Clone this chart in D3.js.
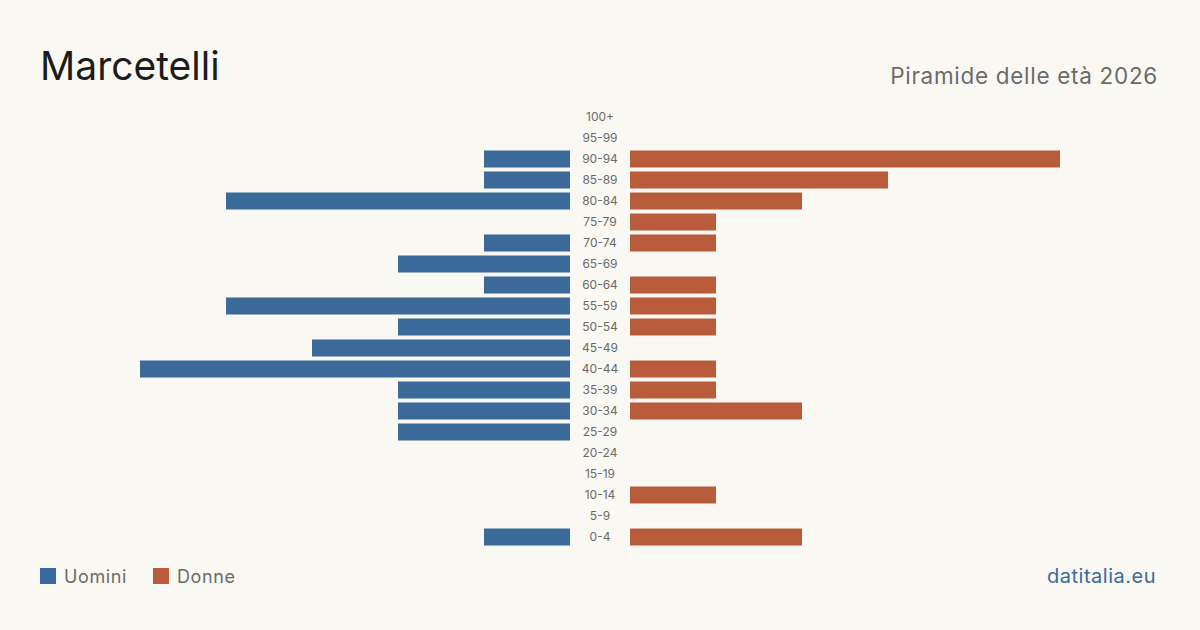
<!DOCTYPE html>
<html>
<head>
<meta charset="utf-8">
<script src="https://cdn.jsdelivr.net/npm/d3@7"></script>
<style>
  html, body { margin: 0; padding: 0; background: #f9f8f3; }
  svg { display: block; font-family: Inter, "Noto Sans", sans-serif; }
</style>
</head>
<body>
<script>
const ageGroups = ["100+", "95-99", "90-94", "85-89", "80-84", "75-79", "70-74", "65-69",
  "60-64", "55-59", "50-54", "45-49", "40-44", "35-39", "30-34", "25-29",
  "20-24", "15-19", "10-14", "5-9", "0-4"];
const men =   [0, 0, 1, 1, 4, 0, 1, 2, 1, 4, 2, 3, 5, 2, 2, 2, 0, 0, 0, 0, 1];
const women = [0, 0, 5, 3, 2, 1, 1, 0, 1, 1, 1, 0, 1, 1, 2, 0, 0, 0, 1, 0, 2];

const width = 1200;
const height = 630;
const blue = "#3b6a9a";
const orange = "#b95c3c";

const svg = d3.select("body").append("svg")
  .attr("width", width)
  .attr("height", height);

svg.append("rect").attr("width", width).attr("height", height).attr("fill", "#f9f8f3");

svg.append("text")
  .attr("x", 40).attr("y", 80)
  .attr("font-size", 39)
  .attr("fill", "#1c1c1c")
  .text("Marcetelli");

svg.append("text")
  .attr("x", 1158).attr("y", 84)
  .attr("text-anchor", "end")
  .attr("font-size", 22.5)
  .attr("letter-spacing", 0.7)
  .attr("fill", "#6b6b6b")
  .text("Piramide delle età 2026");

const yScale = d3.scaleBand()
  .domain(ageGroups)
  .range([106.5, 547.5])
  .paddingInner(0.19)
  .paddingOuter(0.095);

const maxVal = 5;
const xLeft = d3.scaleLinear().domain([0, maxVal]).range([570, 140]);
const xRight = d3.scaleLinear().domain([0, maxVal]).range([630, 1060]);

const bars = svg.append("g");

bars.selectAll("rect.men")
  .data(ageGroups)
  .enter()
  .append("rect")
  .attr("class", "men")
  .attr("x", (d, i) => xLeft(men[i]))
  .attr("y", (d) => yScale(d))
  .attr("width", (d, i) => xLeft(0) - xLeft(men[i]))
  .attr("height", yScale.bandwidth())
  .attr("fill", blue);

bars.selectAll("rect.women")
  .data(ageGroups)
  .enter()
  .append("rect")
  .attr("class", "women")
  .attr("x", xRight(0))
  .attr("y", (d) => yScale(d))
  .attr("width", (d, i) => xRight(women[i]) - xRight(0))
  .attr("height", yScale.bandwidth())
  .attr("fill", orange);

svg.append("g").selectAll("text")
  .data(ageGroups)
  .enter()
  .append("text")
  .attr("x", 600)
  .attr("y", (d) => yScale(d) + yScale.bandwidth() / 2)
  .attr("dy", "0.35em")
  .attr("text-anchor", "middle")
  .attr("font-size", 12)
  .attr("fill", "#6b6b6b")
  .text((d) => d);

const legend = svg.append("g");
const legendItems = [
  { label: "Uomini", color: blue, x: 40 },
  { label: "Donne", color: orange, x: 153 }
];
legendItems.forEach((item) => {
  legend.append("rect")
    .attr("x", item.x).attr("y", 568)
    .attr("width", 16).attr("height", 16)
    .attr("fill", item.color);
  legend.append("text")
    .attr("x", item.x + 24).attr("y", 583)
    .attr("font-size", 18)
    .attr("letter-spacing", 0.6)
    .attr("fill", "#6b6b6b")
    .text(item.label);
});

svg.append("text")
  .attr("x", 1156).attr("y", 583)
  .attr("text-anchor", "end")
  .attr("font-size", 20)
  .attr("letter-spacing", 0.5)
  .attr("fill", blue)
  .text("datitalia.eu");
</script>
</body>
</html>
